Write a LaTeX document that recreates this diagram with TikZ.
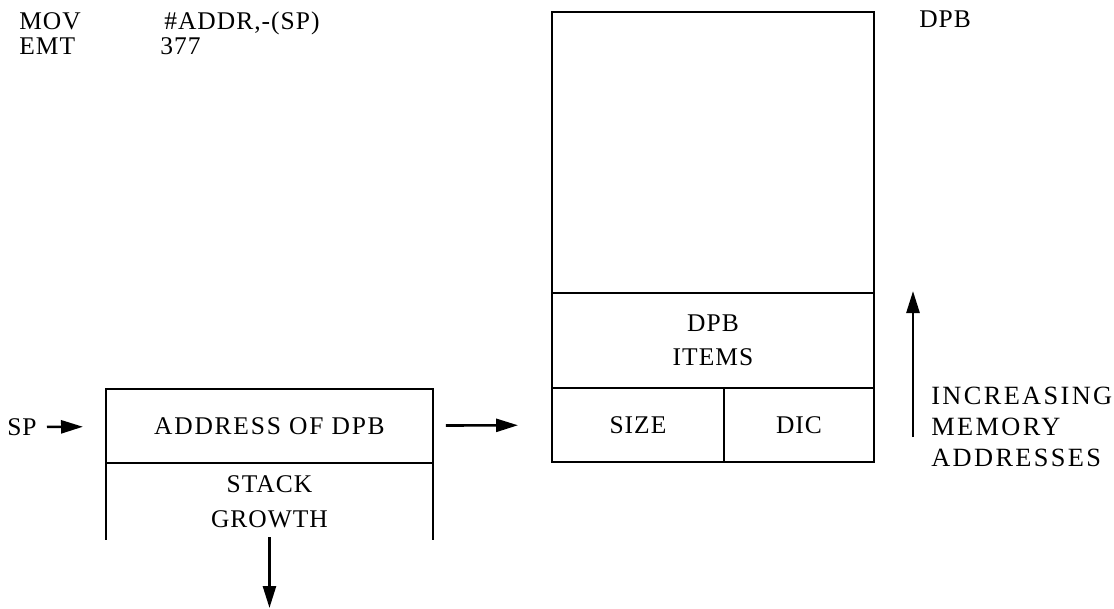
\documentclass[tikz,border=0pt]{standalone}
\usepackage{fontspec}
\setmainfont{Liberation Serif}[LetterSpace=4]
\usepackage{tikz}
\usetikzlibrary{arrows.meta}
\usetikzlibrary{positioning}

\begin{document}
\begin{tikzpicture}[x=0.02cm, y=-0.02cm, line width=1.5pt,
 font=\fontsize{14.5}{19}\selectfont,
 block/.style = {draw, rectangle, inner sep=0pt, outer sep=0pt, align=center},
 txt/.style = {inner sep=0pt, align=left},
 arr/.style = {-{Triangle[length=4.4mm,width=2.6mm]}},
                        ]
    \useasboundingbox (0,0) rectangle (1114,608);

    % program lines
    \node [txt, anchor=base west] (mov) at (18,30) {MOV};
    \node [txt, anchor=base west] (emt) at (18,55) {EMT};
    \node [txt, anchor=base west] (movArg) at (163,30) {\#ADDR,-(SP)};
    \node [txt, anchor=base west] (emtArg) at (159,55) {377};

    % the DPB
    \node [block, minimum width=6.44cm, minimum height=5.62cm, anchor=north west] (dpb) at (552,12) {};
    \node [block, minimum width=6.44cm, minimum height=1.9cm, anchor=north] (items) at (dpb.south) {DPB\\ITEMS};
    \node [block, minimum width=3.44cm, minimum height=1.48cm, anchor=north west] (size) at (items.south west) {SIZE};
    \node [block, minimum width=3cm, minimum height=1.48cm, anchor=north west] (dic) at (size.north east) {DIC};
    \node [txt, anchor=base west] (dpbTitle) at (918,28) {DPB};

    \coordinate (memLow) at (913,437);
    \coordinate (memHigh) at (913,291);
    \node [txt, anchor=west, font=\fontsize{15}{17.5}\selectfont\addfontfeatures{LetterSpace=9}] (incr) at (930,427) {INCREASING\\MEMORY\\ADDRESSES};

    % the stack
    \node [block, minimum width=6.54cm, minimum height=1.48cm, anchor=north west,
           font=\fontsize{14.5}{19}\selectfont\addfontfeatures{LetterSpace=7}] (addr) at (106,389) {ADDRESS OF DPB};
    \draw (addr.south west) -- ++(0,77);
    \draw (addr.south east) -- ++(0,77);
    \node [txt, align=center, font=\fontsize{14.5}{20}\selectfont, below=0.22cm of addr] (growth) {STACK\\GROWTH};
    \coordinate [below=1.58cm of growth] (stackEnd);

    \node [txt, anchor=east] (sp) at (38,427) {SP};

    \path (sp) edge [arr, shorten <=0.18cm, shorten >=0.46cm] (addr)
          (addr) edge [arr, shorten <=0.26cm, shorten >=0.68cm] (size)
          (growth) edge [arr, shorten <=0.16cm] (stackEnd)
          (memLow) edge [arr] (memHigh);

\end{tikzpicture}
\end{document}
